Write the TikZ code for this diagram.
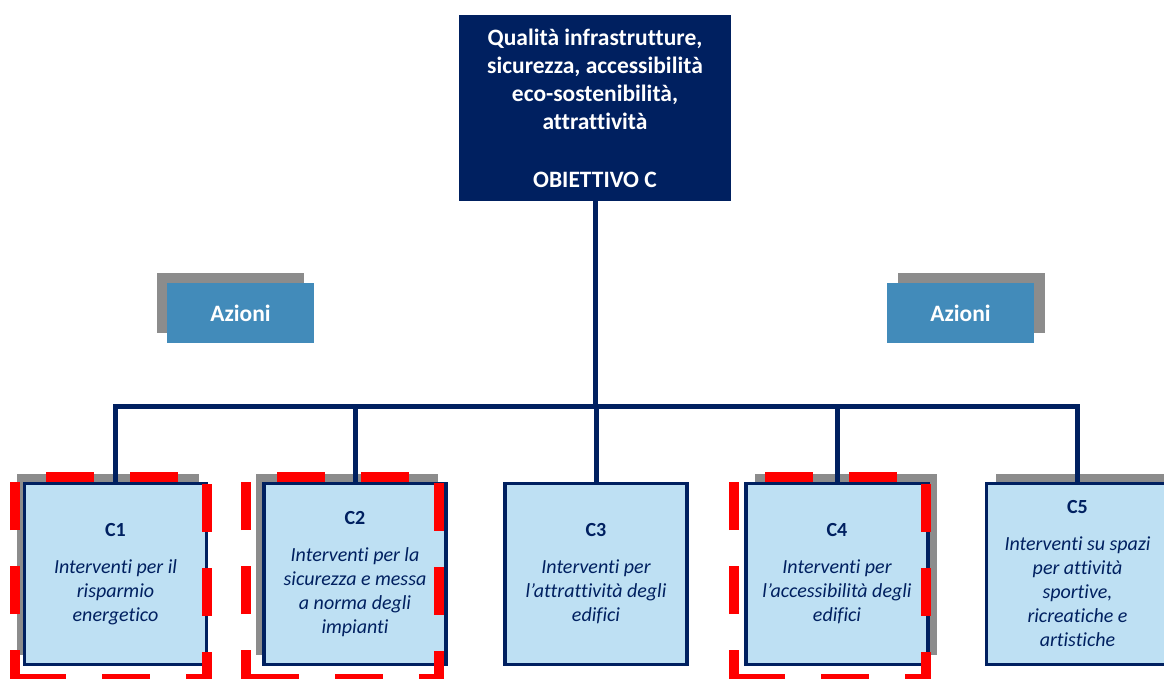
\documentclass[tikz,border=0pt]{standalone}
\usepackage{fontspec}
\setmainfont[Ligatures=NoCommon]{Carlito}
\usepackage{tikz}
\usetikzlibrary{arrows,positioning,shadows}

\definecolor{navy}{RGB}{0,32,96}
\definecolor{paleblue}{RGB}{190,224,243}
\definecolor{azblue}{RGB}{66,139,186}
\definecolor{shadowgray}{RGB}{140,140,140}

\begin{document}
\begin{tikzpicture}[x=1pt, y=-1pt,
  goal/.style={fill=navy, text=white, align=center, inner sep=0pt,
    minimum width=272pt, minimum height=186pt,
    font=\fontsize{23.5}{28}\selectfont\bfseries},
  azione/.style={fill=azblue, text=white, inner sep=0pt,
    minimum width=147pt, minimum height=60pt,
    font=\fontsize{23.5}{28}\selectfont\bfseries},
  intervento/.style={draw=navy, line width=3.5pt, fill=paleblue, text=navy,
    align=center, inner sep=0pt, minimum width=182pt, minimum height=181pt,
    font=\fontsize{20}{24}\selectfont\itshape},
  shadowleft/.style={drop shadow={shadow xshift=-8pt, shadow yshift=10pt,
    fill=shadowgray, opacity=1}},
  shadowright/.style={drop shadow={shadow xshift=9pt, shadow yshift=10pt,
    fill=shadowgray, opacity=1}},
  link/.style={draw=navy, line width=5pt},
  redmark/.style={draw=red, line width=10pt,
    dash pattern=on 48pt off 36pt, dash phase=19pt}]

\useasboundingbox (0,0) rectangle (1164,678);
\clip (0,0) rectangle (1164,678);

% obiettivo
\node[goal] (obiettivo) at (595,108) {Qualità infrastrutture,\\
  sicurezza, accessibilità\\ eco-sostenibilità,\\ attrattività\\[30pt]
  OBIETTIVO C};

% azioni
\node[azione, drop shadow={shadow xshift=-10pt, shadow yshift=10pt,
  fill=shadowgray, opacity=1}] (azionisx) at (240.5,313) {Azioni};
\node[azione, drop shadow={shadow xshift=11pt, shadow yshift=10pt,
  fill=shadowgray, opacity=1}] (azionidx) at (960.5,313) {Azioni};

% interventi
\node[intervento, shadowleft] (c1) at (115.5,574) {{\upshape\bfseries C1}\\[13pt]
  Interventi per il\\ risparmio\\ energetico};
\node[intervento, shadowleft] (c2) at (355,574) {{\upshape\bfseries C2}\\[13pt]
  Interventi per la\\ sicurezza e messa\\ a norma degli\\ impianti};
\node[intervento] (c3) at (596,574) {{\upshape\bfseries C3}\\[13pt]
  Interventi per\\ l’attrattività degli\\ edifici};
\node[intervento, shadowright] (c4) at (837,574) {{\upshape\bfseries C4}\\[13pt]
  Interventi per\\ l’accessibilità degli\\ edifici};
\node[intervento, shadowright] (c5) at (1077.5,574) {{\upshape\bfseries C5}\\[13pt]
  Interventi su spazi\\ per attività\\ sportive,\\ ricreatiche e\\
  artistiche};

% collegamenti
\coordinate (bus) at (595,406.5);
\draw[link] (obiettivo) -- (bus);
\draw[link] (c1.north) |- (bus) -| (c5.north);
\foreach \c in {c2,c3,c4}
  \draw[link] (\c.north) -- (\c.north |- bus);

% riquadri rossi
\foreach \l/\r in {15/207, 246/439, 734/926}
  \draw[redmark] (\l,679) -- (\l,477) -- (\r,477) -- (\r,679) -- cycle;

\end{tikzpicture}
\end{document}
